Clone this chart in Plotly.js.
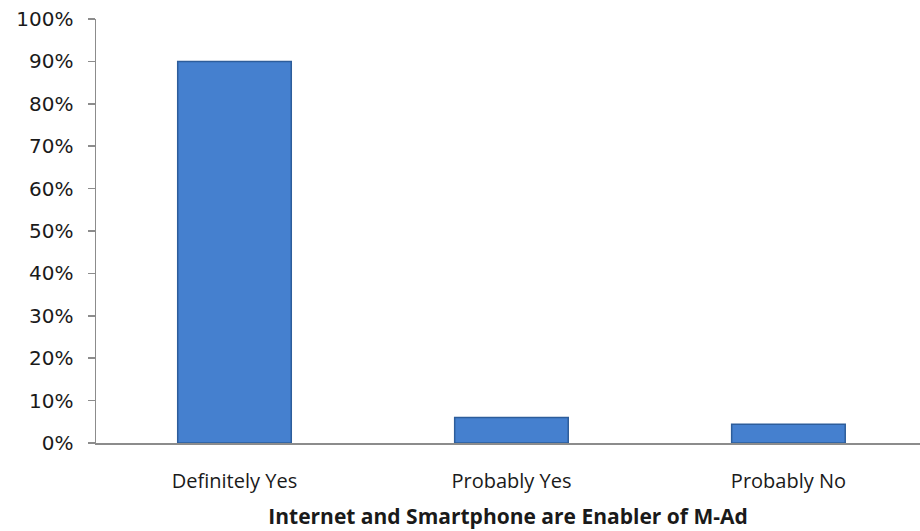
<!DOCTYPE html>
<html><head><meta charset="utf-8">
<script src="https://cdn.plot.ly/plotly-3.0.1.min.js"></script>
<style>body{margin:0;background:#fff}#chart{width:920px;height:531px}</style>
</head><body><div id="chart"></div>
<script>
const categories = ["Definitely Yes", "Probably Yes", "Probably No"];
const values = [0.90, 0.06, 0.044];
const yTicks = [0,0.1,0.2,0.3,0.4,0.5,0.6,0.7,0.8,0.9,1.0];
const yTickLabels = ["0%","10%","20%","30%","40%","50%","60%","70%","80%","90%","100%"];
const xTitle = "Internet and Smartphone are Enabler of M-Ad";

const font = "Open Sans, Verdana, sans-serif";
const data = [{
  type: "bar", x: [0,1,2], y: values, width: 0.41,
  marker: {color: "#4580cf", line: {color: "#2d5d9b", width: 1.5}},
  hoverinfo: "skip"
}];
const layout = {
  width: 920, height: 531,
  margin: {l: 96, r: 0, t: 19, b: 88},
  paper_bgcolor: "#fff", plot_bgcolor: "#fff",
  showlegend: false,
  xaxis: {
    range: [-0.5, 2.475], tickvals: [0,1,2], ticktext: categories,
    showgrid: false, zeroline: false, showline: true, linecolor: "#8c8c8c", linewidth: 1.5,
    ticks: "", ticklabelstandoff: 19,
    tickfont: {family: font, size: 20, color: "#1a1a1a"},
    title: {text: "<b>" + xTitle + "</b>", font: {family: font, size: 21, color: "#1a1a1a"}, standoff: 17}
  },
  yaxis: {
    range: [0, 1], tickvals: yTicks, ticktext: yTickLabels,
    showgrid: false, zeroline: false, showline: true, linecolor: "#8c8c8c", linewidth: 1.5,
    ticks: "outside", ticklen: 7, tickcolor: "#8c8c8c", tickwidth: 1.5,
    ticklabelstandoff: 10,
    tickfont: {family: "DejaVu Sans, Verdana, sans-serif", size: 20, color: "#1a1a1a"}
  },
  font: {family: font}
};
Plotly.newPlot("chart", data, layout, {staticPlot: true});
</script></body></html>
